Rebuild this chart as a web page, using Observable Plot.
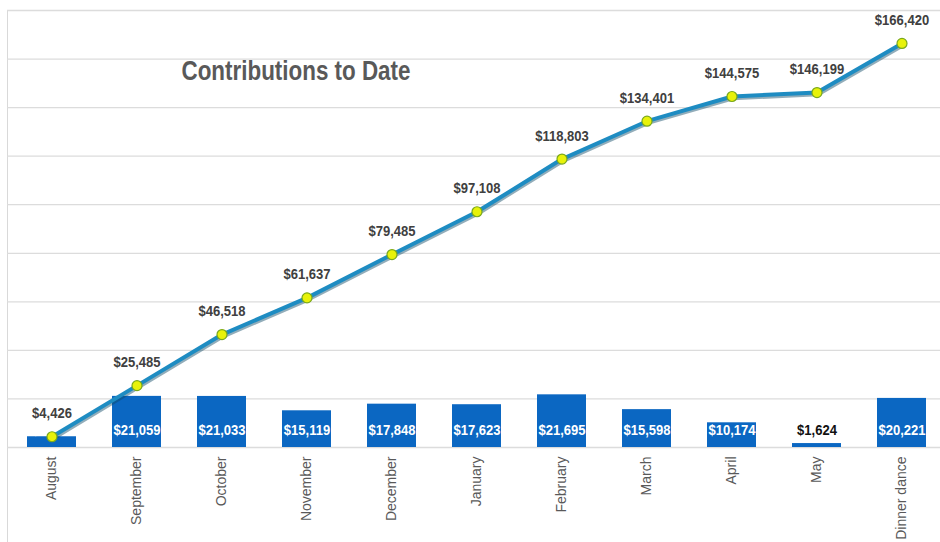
<!DOCTYPE html>
<html>
<head>
<meta charset="utf-8">
<script src="https://cdn.jsdelivr.net/npm/d3@7"></script>
<script src="https://cdn.jsdelivr.net/npm/@observablehq/plot@0.6"></script>
<style>
  body { margin: 0; background: #fff; }
  #wrap { position: relative; width: 940px; height: 542px; overflow: hidden; }
  #border { position: absolute; left: 7px; top: 10px; width: 1000px; height: 600px;
            border-left: 1px solid #d9d9d9; border-top: 1px solid #d9d9d9; pointer-events: none; }
</style>
</head>
<body>
<div id="wrap"><div id="border"></div></div>
<script>
const months = ["August","September","October","November","December","January","February","March","April","May","Dinner dance"];
const monthly = [4426, 21059, 21033, 15119, 17848, 17623, 21695, 15598, 10174, 1624, 20221];
const cumulative = [4426, 25485, 46518, 61637, 79485, 97108, 118803, 134401, 144575, 146199, 166420];
const gridTicks = [0, 20000, 40000, 60000, 80000, 100000, 120000, 140000, 160000, 180000];
const title = "Contributions to Date";

const rows = months.map((m, i) => ({month: m, monthly: monthly[i], cumulative: cumulative[i]}));
const fmt = v => "$" + d3.format(",")(v);
const sans = "'Liberation Sans', Arial, sans-serif";

const chart = Plot.plot({
  width: 940,
  height: 542,
  marginTop: 10,
  marginBottom: 95,
  marginLeft: 7,
  marginRight: 0,
  style: {background: "transparent", overflow: "visible"},
  x: {domain: months, range: [7.3, 946.7], paddingInner: 0.42, paddingOuter: 0.21, label: null},
  y: {domain: [0, 180000], label: null, axis: null},
  marks: [
    Plot.ruleY(gridTicks, {stroke: "#dcdcdc", strokeWidth: 1.3}),
    Plot.axisX({tickSize: 0, tickRotate: -90, tickPadding: 9, fontSize: 14, color: "#595959",
                fontFamily: sans, label: null}),
    Plot.barY(rows, {x: "month", y: "monthly", fill: "#0b67c2"}),
    Plot.text(rows, {x: "month", y: 0, text: d => fmt(d.monthly), dy: -17,
                     fill: d => d.monthly < 3000 ? "#111" : "#fff", className: "narrow93",
                     fontWeight: "bold", fontSize: 14, fontFamily: sans}),
    Plot.line(rows, {x: "month", y: "cumulative", stroke: "#0d4a66", strokeOpacity: 0.45,
                     strokeWidth: 4.5, dx: 1, dy: 1.5}),
    Plot.line(rows, {x: "month", y: "cumulative", stroke: "#1e8cc2", strokeWidth: 4}),
    Plot.dot(rows, {x: "month", y: "cumulative", r: 5, fill: "#e8f20a", stroke: "#7aa81c", strokeWidth: 1.2}),
    Plot.text(rows, {x: "month", y: "cumulative", text: d => fmt(d.cumulative), dy: -23,
                     fill: "#404040", fontWeight: "bold", fontSize: 14, fontFamily: sans, className: "narrow93"}),
    Plot.text([title], {frameAnchor: "top-left", dx: 174, dy: 50, textAnchor: "start", className: "narrow80",
                        fill: "#595959", fontWeight: "bold", fontSize: 28, fontFamily: sans})
  ]
});
document.getElementById("wrap").appendChild(chart);
chart.style.position = "absolute";
chart.style.left = "0px";
chart.style.top = "0px";

// condense the bold labels horizontally, like the narrow font of the original
function condense(selector, factor) {
  chart.querySelectorAll(selector + " text").forEach(t => {
    const len = t.getComputedTextLength();
    t.setAttribute("textLength", (len * factor).toFixed(1));
    t.setAttribute("lengthAdjust", "spacingAndGlyphs");
  });
}
condense(".narrow93", 0.93);
condense(".narrow80", 0.8);
</script>
</body>
</html>
